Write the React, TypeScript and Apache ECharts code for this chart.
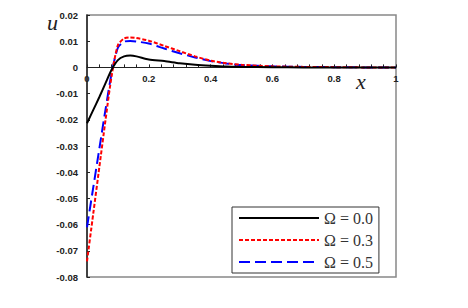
import React, { useEffect, useRef } from "react";
import * as echarts from "echarts";

const xs = [0, 0.02, 0.04, 0.06, 0.08, 0.1, 0.12, 0.14, 0.16, 0.2, 0.25, 0.3, 0.35, 0.4, 0.45, 0.5, 0.6, 0.7, 0.8, 0.9, 1.0];
const u00 = [-0.0213, -0.0163, -0.0113, -0.006, -0.0008, 0.0028, 0.0042, 0.0045, 0.0042, 0.003, 0.0024, 0.0016, 0.001, 0.0006, 0.0003, 0.0002, 0.0001, 0, 0, 0, 0];
const u03 = [-0.074, -0.056, -0.038, -0.02, -0.003, 0.0085, 0.011, 0.0114, 0.0112, 0.0102, 0.0082, 0.0062, 0.0042, 0.0026, 0.0016, 0.001, 0.0004, 0.0002, 0.0001, 0, 0];
const u05 = [-0.061, -0.046, -0.031, -0.016, -0.002, 0.0075, 0.0098, 0.0101, 0.0099, 0.0091, 0.0072, 0.0054, 0.0038, 0.0024, 0.0015, 0.0009, 0.0004, 0.0002, 0.0001, 0, 0];
const seriesNames = ["Ω = 0.0", "Ω = 0.3", "Ω = 0.5"];
const seriesValues = [u00, u03, u05];
const seriesColors = ["#000000", "#ff0000", "#0000ff"];
const seriesDash: any[] = ["solid", [4, 2], [11, 5]];

const Y_MIN = -0.08;
const Y_MAX = 0.02;
const GRID_TOP = 15;
const GRID_BOTTOM = 31;
const H = 308;

export default function App() {
  const ref = useRef<HTMLDivElement>(null);
  useEffect(() => {
    if (!ref.current) return;
    const chart = echarts.init(ref.current, undefined, { renderer: "svg" });
    const plotH = H - GRID_TOP - GRID_BOTTOM;
    const zeroOffset = -plotH * (0 - Y_MIN) / (Y_MAX - Y_MIN);
    const labelStyle = { color: "#222", fontSize: 9.5, fontWeight: "bold" as const, fontFamily: "Liberation Sans, Arial, sans-serif" };
    chart.setOption({
      animation: false,
      backgroundColor: "#ffffff",
      grid: { left: 87, top: GRID_TOP, right: 72, bottom: GRID_BOTTOM, show: true, borderColor: "#888", borderWidth: 1.5, backgroundColor: "transparent" },
      xAxis: {
        type: "value",
        min: 0,
        max: 1,
        interval: 0.2,
        offset: zeroOffset,
        axisLine: { onZero: false, lineStyle: { color: "#222", width: 1 } },
        axisTick: { show: true, inside: true, length: 3, lineStyle: { color: "#222" } },
        minorTick: { show: true, splitNumber: 5, length: 3, lineStyle: { color: "#222" } },
        splitLine: { show: false },
        axisLabel: { ...labelStyle, margin: 6 },
      },
      yAxis: {
        type: "value",
        min: Y_MIN,
        max: Y_MAX,
        interval: 0.01,
        axisLine: { show: true, onZero: false, lineStyle: { color: "#222", width: 1.5 } },
        axisTick: { show: true, inside: true, length: 3, lineStyle: { color: "#222" } },
        splitLine: { show: false },
        axisLabel: { ...labelStyle, margin: 9, formatter: (v: number) => String(Math.round(v * 100) / 100) },
      },
      legend: {
        orient: "vertical",
        left: 232,
        top: 207,
        padding: [3, 6, 3, 6],
        itemWidth: 80,
        itemHeight: 14,
        itemGap: 6,
        backgroundColor: "#ffffff",
        borderColor: "#333",
        borderWidth: 1,
        borderRadius: 0,
        itemStyle: { opacity: 0 },
        textStyle: { color: "#333", fontSize: 16, fontFamily: "Liberation Serif, serif" },
        data: seriesNames,
      },
      series: seriesNames.map((name, i) => ({
        name,
        type: "line",
        symbol: "none",
        smooth: 0.25,
        data: xs.map((x, j) => [x, seriesValues[i][j]]),
        lineStyle: { color: seriesColors[i], width: 2, type: seriesDash[i] },
        itemStyle: { color: seriesColors[i] },
        z: 3 - i,
      })),
      graphic: [
        { type: "text", left: 47, top: 11, style: { text: "u", font: "italic 22px Liberation Serif, serif", fill: "#222" } },
        { type: "text", left: 356, top: 70, style: { text: "x", font: "italic 22px Liberation Serif, serif", fill: "#222" } },
      ],
    });
    return () => chart.dispose();
  }, []);
  return <div ref={ref} style={{ position: "fixed", left: 0, top: 0, width: 468, height: 308 }} />;
}
